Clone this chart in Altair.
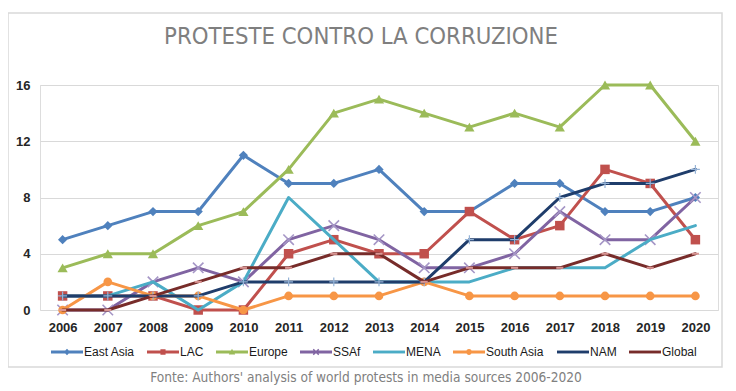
import altair as alt
import pandas as pd

years = [str(y) for y in range(2006, 2021)]
series = ["East Asia", "LAC", "Europe", "SSAf", "MENA", "South Asia", "NAM", "Global"]
east_asia = [5, 6, 7, 7, 11, 9, 9, 10, 7, 7, 9, 9, 7, 7, 8]
lac = [1, 1, 1, 0, 0, 4, 5, 4, 4, 7, 5, 6, 10, 9, 5]
europe = [3, 4, 4, 6, 7, 10, 14, 15, 14, 13, 14, 13, 16, 16, 12]
ssaf = [0, 0, 2, 3, 2, 5, 6, 5, 3, 3, 4, 7, 5, 5, 8]
mena = [1, 1, 2, 0, 2, 8, 5, 2, 2, 2, 3, 3, 3, 5, 6]
south_asia = [0, 2, 1, 1, 0, 1, 1, 1, 2, 1, 1, 1, 1, 1, 1]
nam = [1, 1, 1, 1, 2, 2, 2, 2, 2, 5, 5, 8, 9, 9, 10]
global_ = [0, 0, 1, 2, 3, 3, 4, 4, 2, 3, 3, 3, 4, 3, 4]
values = [east_asia, lac, europe, ssaf, mena, south_asia, nam, global_]

colors = ["#4F81BD", "#C0504D", "#9BBB59", "#8064A2", "#4BACC6", "#F79646", "#1F3D6B", "#772C2A"]
y_ticks = [0, 4, 8, 12, 16]

TITLE = "PROTESTE CONTRO LA CORRUZIONE"
FOOTER = "Fonte: Authors' analysis of world protests in media sources 2006-2020"

rows = []
for s, vals in zip(series, values):
    for yr, v in zip(years, vals):
        rows.append({"year": yr, "series": s, "value": v})
df = pd.DataFrame(rows)

W, H = 678, 225
AX_FONT = "Liberation Sans"
NARROW = "Liberation Sans Narrow, DejaVu Sans Condensed, Liberation Sans"

x_enc = alt.X("year:O", scale=alt.Scale(type="point", padding=0.5),
              axis=alt.Axis(title=None, labelAngle=0, ticks=False, domain=False, grid=False,
                            labelFont=AX_FONT, labelFontSize=13, labelFontWeight="bold",
                            labelColor="#262626", labelPadding=11))
y_enc = alt.Y("value:Q", scale=alt.Scale(domain=[0, 16], nice=False),
              axis=alt.Axis(title=None, values=y_ticks, ticks=False, domain=False,
                            gridColor="#d9d9d9", gridWidth=1.2,
                            labelFont=AX_FONT, labelFontSize=13, labelFontWeight="bold",
                            labelColor="#262626", labelPadding=10))
color_scale = alt.Scale(domain=series, range=colors)

# marker styles in the plot (per series)
marker_styles = {
    "East Asia": dict(shape="diamond", filled=True, size=85, opacity=1),
    "LAC": dict(shape="square", filled=True, size=90, opacity=1),
    "Europe": dict(shape="triangle-up", filled=True, size=105, opacity=1),
    "SSAf": dict(shape="M-1,-1L1,1M-1,1L1,-1", filled=False, size=110, color="#a596c6",
                 strokeWidth=1.6, opacity=1),
    "South Asia": dict(shape="circle", filled=True, size=75, opacity=1),
    "NAM": dict(shape="M-1,0H1M0,-1V1", filled=False, size=80, color="#95b3d7",
                strokeWidth=1.2, opacity=1),
    "Global": dict(shape="M-1,0H1", filled=False, size=50, color="#d99694",
                   strokeWidth=2, opacity=1),
}

base = alt.Chart(df)
layers = []

# frame around the chart area
frame = alt.Chart(pd.DataFrame({"k": [0]})).mark_rect(
    fillOpacity=0, stroke="#d9d9d9", strokeWidth=1.5
).encode(x=alt.value(-32), x2=alt.value(682), y=alt.value(-72), y2=alt.value(282))
layers.append(frame)

for s, col in zip(series, colors):
    line = base.transform_filter(alt.datum.series == s).mark_line(
        strokeWidth=3, strokeJoin="round", strokeCap="round", color=col
    ).encode(x=x_enc, y=y_enc)
    layers.append(line)
    if s in marker_styles:
        style = dict(marker_styles[s])
        style.setdefault("color", col)
        pts = base.transform_filter(alt.datum.series == s).mark_point(
            **style
        ).encode(x=x_enc, y=y_enc)
        layers.append(pts)

# legend symbols: a line with a small marker (custom paths in unit box)
bar = "M-1,-0.09H1V0.09H-1Z"
legend_paths = [
    bar + " M0,-0.2L0.2,0L0,0.2L-0.2,0Z",
    bar + " M-0.16,-0.17H0.16V0.17H-0.16Z",
    bar + " M0,-0.2L0.2,0.16H-0.2Z",
    bar + " M0,-0.06L0.14,-0.2L0.2,-0.14L0.06,0L0.2,0.14L0.14,0.2L0,0.06L-0.14,0.2L-0.2,0.14L-0.06,0L-0.2,-0.14L-0.14,-0.2Z",
    bar,
    bar + " M-0.18,0A0.18,0.18 0 1,1 0.18,0A0.18,0.18 0 1,1 -0.18,0Z",
    bar,
    bar,
]

# legend-only layer: no points drawn (empty after filter), the legend comes from the scales' domains
legend_layer = base.transform_filter(alt.datum.value < 0).mark_point(filled=True, opacity=1).encode(
    x=x_enc, y=y_enc,
    color=alt.Color("series:N", scale=color_scale,
                    legend=alt.Legend(title=None, orient="none", legendX=11, legendY=251,
                                      direction="horizontal", columns=8,
                                      symbolSize=1024, symbolStrokeWidth=0,
                                      symbolOpacity=1,
                                      labelFont=AX_FONT, labelFontSize=12,
                                      labelColor="#1a1a1a", labelOffset=1,
                                      columnPadding=12, padding=0)),
    shape=alt.Shape("series:N", scale=alt.Scale(domain=series, range=legend_paths)),
)
layers.append(legend_layer)

title = alt.Chart(pd.DataFrame({"t": [TITLE]})).mark_text(
    font=NARROW, fontSize=23.7, color="#7f7f7f", align="center", baseline="middle"
).encode(text="t:N", x=alt.value(321), y=alt.value(-48))
layers.append(title)

footer = alt.Chart(pd.DataFrame({"t": [FOOTER]})).mark_text(
    font=NARROW, fontSize=13.6, color="#808080", align="center", baseline="middle"
).encode(text="t:N", x=alt.value(326), y=alt.value(293))
layers.append(footer)

chart = alt.layer(*layers).properties(
    width=W, height=H,
    autosize=alt.AutoSizeParams(type="none"),
    padding={"left": 32, "top": 77, "right": 10, "bottom": 76},
).configure_view(strokeWidth=0).configure(background="white")

chart.save("out.html", embed_options={"renderer": "svg", "actions": False})
